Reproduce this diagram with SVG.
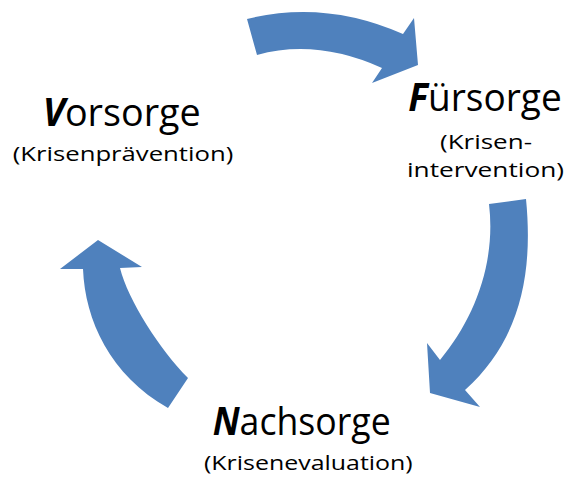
<svg xmlns="http://www.w3.org/2000/svg" width="568" height="477" viewBox="0 0 568 477">
<style>
.arrow{fill:#4f81bd;stroke:none}
.big{font-family:"Open Sans","Noto Sans","Liberation Sans",sans-serif;font-size:39px;fill:#000}
.small{font-family:"Open Sans","Noto Sans","Liberation Sans",sans-serif;font-size:19.5px;fill:#000}
.ini{font-weight:bold;font-style:italic}
</style>
<rect width="568" height="477" fill="#fff"/>
<g id="connectors">
<path class="arrow" d="M247,19 Q325,-0.5 403,34 L414,18 L418,65 L372,83 L382,68 Q316.5,38.5 257,55 Z"/>
<path class="arrow" d="M489,204 L526,199 C534,280 517,343 465,390 L480,407 L430,393 L427,343 L440,360 C475,318 496,262 489,204 Z"/>
<path class="arrow" d="M168,408 L188,378 C160,350 128,300 120,268 L142,267 L98,240 L60,269 L83,269 C85,320 110,375 168,408 Z"/>
</g>
<g id="vorsorge">
<text class="big" x="42.7" y="125.5" textLength="158" lengthAdjust="spacingAndGlyphs"><tspan class="ini">V</tspan>orsorge</text>
<text class="small" x="12.7" y="161" textLength="220.6" lengthAdjust="spacingAndGlyphs">(Krisenprävention)</text>
</g>
<g id="fuersorge">
<text class="big" x="408.3" y="111" textLength="153.4" lengthAdjust="spacingAndGlyphs"><tspan class="ini">F</tspan>ürsorge</text>
<text class="small" x="440" y="149" textLength="92" lengthAdjust="spacingAndGlyphs">(Krisen-</text>
<text class="small" x="407" y="176.5" textLength="157" lengthAdjust="spacingAndGlyphs">intervention)</text>
</g>
<g id="nachsorge">
<text class="big" x="212.7" y="434.5" textLength="178" lengthAdjust="spacingAndGlyphs"><tspan class="ini">N</tspan>achsorge</text>
<text class="small" x="204" y="470" textLength="208.7" lengthAdjust="spacingAndGlyphs">(Krisenevaluation)</text>
</g>
</svg>
